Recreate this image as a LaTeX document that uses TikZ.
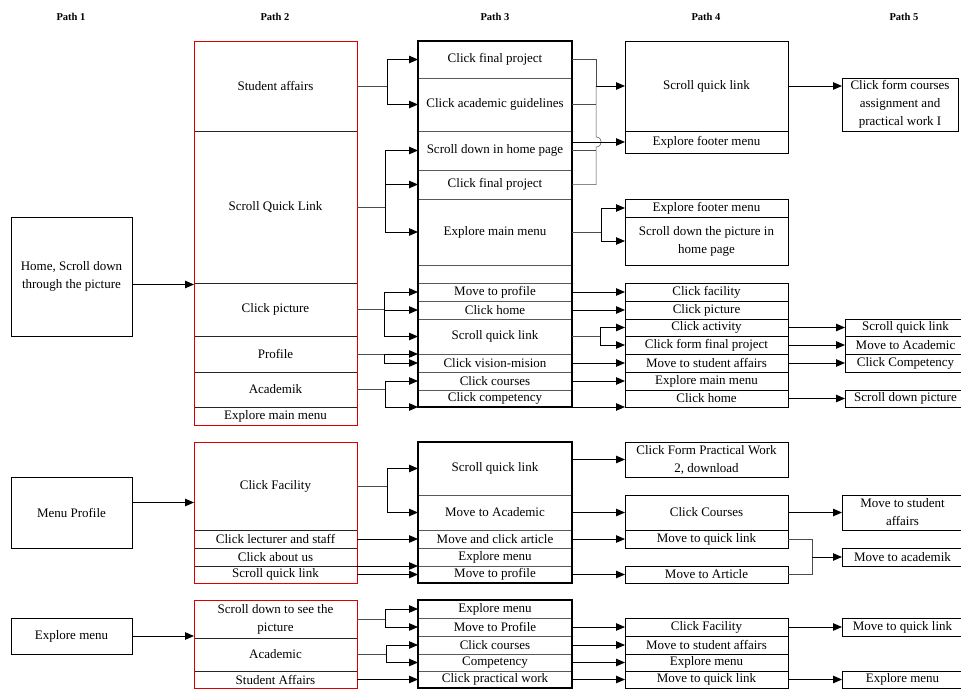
\documentclass[tikz,border=0pt]{standalone}
\usepackage{fontspec}
\setmainfont{Liberation Serif}
\usetikzlibrary{positioning,arrows.meta,calc}

\begin{document}
\begin{tikzpicture}[x=1pt, y=-1pt, node distance=0pt,
	font=\fontsize{13}{18}\selectfont,
	hdr/.style = {font=\fontsize{10.5}{12}\selectfont\bfseries},
	main/.style = {draw, rectangle, align=center, inner xsep=2pt, inner ysep=0pt, outer sep=0pt, line width=0.6pt},
	ptwo/.style = {main, draw=black!85, line width=0.5pt, minimum width=163pt},
	pthree/.style = {main, draw=black!65, line width=0.5pt, minimum width=154pt},
	pfour/.style = {main, minimum width=163pt},
	pfive/.style = {main, minimum width=121pt},
	link/.style = {line width=0.5pt, black!70},
	arr/.style = {-{Triangle[length=9pt,width=7.5pt]}, line width=1pt},
	grp/.style = {draw=red!85!black, line width=0.8pt},
	boxline/.style = {draw=black, line width=1.1pt}]
	\useasboundingbox (0,0) rectangle (961,688);
	% headers
	\node[hdr] (h1) at (71,17) {Path 1};
	\node[hdr] (h2) at (275,17) {Path 2};
	\node[hdr] (h3) at (495,17) {Path 3};
	\node[hdr] (h4) at (706,17) {Path 4};
	\node[hdr] (h5) at (904,17) {Path 5};
	% path 1
	\node[main, minimum width=121pt, minimum height=119pt, anchor=north west] (a1) at (11,217) {Home, Scroll down\\through the picture};
	\node[main, minimum width=121pt, minimum height=71pt, anchor=north west] (a2) at (11,477) {Menu Profile};
	\node[main, minimum width=121pt, minimum height=36pt, anchor=north west] (a3) at (11,618) {Explore menu};
	% path 2
	\node[ptwo, minimum height=90pt, anchor=north west] (b1) at (194,41) {Student affairs};
	\node[ptwo, minimum height=152pt, below=of b1] (b2) {Scroll Quick Link};
	\node[ptwo, minimum height=53pt, below=of b2] (b3) {Click picture};
	\node[ptwo, minimum height=36pt, below=of b3] (b4) {Profile};
	\node[ptwo, minimum height=35pt, below=of b4] (b5) {Academik};
	\node[ptwo, minimum height=18pt, below=of b5] (b6) {Explore main menu};
	\node[ptwo, minimum height=88pt, anchor=north west] (b7) at (194,442) {Click Facility};
	\node[ptwo, minimum height=18pt, below=of b7] (b8) {Click lecturer and staff};
	\node[ptwo, minimum height=18pt, below=of b8] (b9) {Click about us};
	\node[ptwo, minimum height=17pt, below=of b9] (b10) {Scroll quick link};
	\node[ptwo, minimum height=38pt, anchor=north west] (b11) at (194,600) {Scroll down to see the\\picture};
	\node[ptwo, minimum height=33pt, below=of b11] (b12) {Academic};
	\node[ptwo, minimum height=17pt, below=of b12] (b13) {Student Affairs};
	\draw[grp] (b1.north west) rectangle (b6.south east);
	\draw[grp] (b7.north west) rectangle (b10.south east);
	\draw[grp] (b11.north west) rectangle (b13.south east);
	% path 3
	\node[pthree, minimum height=37pt, anchor=north west] (c1) at (418,41) {Click final project};
	\node[pthree, minimum height=53pt, below=of c1] (c2) {Click academic guidelines};
	\node[pthree, minimum height=39pt, below=of c2] (c3) {Scroll down in home page};
	\node[pthree, minimum height=29pt, below=of c3] (c4) {Click final project};
	\node[pthree, minimum height=66pt, below=of c4] (c5) {Explore main menu};
	\node[pthree, minimum height=18pt, below=of c5] (c6) {};
	\node[pthree, minimum height=18pt, below=of c6] (c7) {Move to profile};
	\node[pthree, minimum height=18pt, below=of c7] (c8) {Click home};
	\node[pthree, minimum height=35pt, below=of c8] (c9) {Scroll quick link};
	\node[pthree, minimum height=18pt, below=of c9] (c10) {Click vision-mision};
	\node[pthree, minimum height=18pt, below=of c10] (c11) {Click courses};
	\node[pthree, minimum height=17pt, below=of c11] (c12) {Click competency};
	\node[pthree, minimum height=53pt, anchor=north west] (c13) at (418,442) {Scroll quick link};
	\node[pthree, minimum height=35pt, below=of c13] (c14) {Move to Academic};
	\node[pthree, minimum height=18pt, below=of c14] (c15) {Move and click article};
	\node[pthree, minimum height=18pt, below=of c15] (c16) {Explore menu};
	\node[pthree, minimum height=17pt, below=of c16] (c17) {Move to profile};
	\node[pthree, minimum height=18pt, anchor=north west] (c18) at (418,600) {Explore menu};
	\node[pthree, minimum height=18pt, below=of c18] (c19) {Move to Profile};
	\node[pthree, minimum height=18pt, below=of c19] (c20) {Click courses};
	\node[pthree, minimum height=17pt, below=of c20] (c21) {Competency};
	\node[pthree, minimum height=17pt, below=of c21] (c22) {Click practical work};
	\draw[boxline] (c1.north west) rectangle (c12.south east);
	\draw[boxline] (c13.north west) rectangle (c17.south east);
	\draw[boxline] (c18.north west) rectangle (c22.south east);
	% path 4
	\node[pfour, minimum height=90pt, anchor=north west] (d1) at (625,41) {Scroll quick link};
	\node[pfour, minimum height=22pt, below=of d1] (d2) {Explore footer menu};
	\node[pfour, minimum height=18pt, anchor=north west] (d3) at (625,199) {Explore footer menu};
	\node[pfour, minimum height=48pt, below=of d3] (d4) {Scroll down the picture in\\home page};
	\node[pfour, minimum height=18pt, anchor=north west] (d5) at (625,283) {Click facility};
	\node[pfour, minimum height=18pt, below=of d5] (d6) {Click picture};
	\node[pfour, minimum height=17pt, below=of d6] (d7) {Click activity};
	\node[pfour, minimum height=18pt, below=of d7] (d8) {Click form final project};
	\node[pfour, minimum height=18pt, below=of d8] (d9) {Move to student affairs};
	\node[pfour, minimum height=18pt, below=of d9] (d10) {Explore main menu};
	\node[pfour, minimum height=17pt, below=of d10] (d11) {Click home};
	\node[pfour, minimum height=35pt, anchor=north west] (d12) at (625,442) {Click Form Practical Work\\2, download};
	\node[pfour, minimum height=35pt, anchor=north west] (d13) at (625,495) {Click Courses};
	\node[pfour, minimum height=18pt, below=of d13] (d14) {Move to quick link};
	\node[pfour, minimum height=17pt, anchor=north west] (d15) at (625,566) {Move to Article};
	\node[pfour, minimum height=18pt, anchor=north west] (d16) at (625,618) {Click Facility};
	\node[pfour, minimum height=18pt, below=of d16] (d17) {Move to student affairs};
	\node[pfour, minimum height=17pt, below=of d17] (d18) {Explore menu};
	\node[pfour, minimum height=17pt, below=of d18] (d19) {Move to quick link};
	% path 5
	\node[pfive, minimum width=116pt, minimum height=53pt, anchor=north west] (e1) at (842,78) {Click form courses\\assignment and\\practical work I};
	\node[pfive, minimum height=17pt, anchor=north west] (e2) at (845,319) {Scroll quick link};
	\node[pfive, minimum height=18pt, below=of e2] (e3) {Move to Academic};
	\node[pfive, minimum height=18pt, below=of e3] (e4) {Click Competency};
	\node[pfive, minimum height=17pt, anchor=north west] (e5) at (845,390) {Scroll down picture};
	\node[pfive, minimum height=35pt, anchor=north west] (e6) at (842,495) {Move to student\\affairs};
	\node[pfive, minimum height=18pt, anchor=north west] (e7) at (842,548) {Move to academik};
	\node[pfive, minimum height=18pt, anchor=north west] (e8) at (842,618) {Move to quick link};
	\node[pfive, minimum height=17pt, anchor=north west] (e9) at (842,671) {Explore menu};
	% path 1 -> path 2
	\path (a1.east) ++(0,8) coordinate (s1);
	\path (a2.east) ++(0,-10) coordinate (s2);
	\draw[arr] (s1) -- (s1 -| b2.west);
	\draw[arr] (s2) -- (s2 -| b7.west);
	\draw[arr] (a3.east) -- (a3.east -| b11.west);
	% path 2 -> path 3
	\coordinate (j1) at ($(b1.east)+(30,0)$);
	\coordinate (j2) at ($(b2.east)+(28,0)$);
	\coordinate (j3) at ($(b3.east)+(27,0)$);
	\coordinate (j4) at ($(b4.east)+(27,0)$);
	\coordinate (j5) at ($(b5.east)+(28,0)$);
	\coordinate (j7) at ($(b7.east)+(30,0)$);
	\coordinate (j11) at ($(b11.east)+(28,0)$);
	\coordinate (j12) at ($(b12.east)+(29,0)$);
	\draw[link] (b1.east) -- (j1);
	\draw[arr] (j1) |- (c1);
	\draw[arr] (j1) |- (c2);
	\draw[link] (b2.east) -- (j2);
	\draw[arr] (j2) |- (c3);
	\draw[arr] (j2) |- (c4);
	\draw[arr] (j2) |- (c5);
	\draw[link] (b3.east) -- (j3);
	\draw[arr] (j3) |- (c7);
	\draw[arr] (j3) |- (c8);
	\draw[arr] (j3) |- (c9);
	\draw[link] (b4.east) -- (j4);
	\draw[arr] (j4) -- (c9.south west);
	\draw[arr] (j4) |- (c10);
	\draw[link] (b5.east) -- (j5);
	\draw[arr] (j5) |- (c11);
	\draw[arr] (j5) |- (c12.south west);
	\draw[link] (b7.east) -- (j7);
	\draw[arr] (j7) |- (c13);
	\draw[arr] (j7) |- (c14);
	\draw[arr] (b8.east) -- (c15.west);
	\draw[arr] (b9.south east) -- (c16.south west);
	\draw[arr] (b10.east) -- (c17.west);
	\draw[link] (b11.east) -- (j11);
	\draw[arr] (j11) |- (c18);
	\draw[arr] (j11) |- (c19);
	\draw[link] (b12.east) -- (j12);
	\draw[arr] (j12) |- (c20);
	\draw[arr] (j12) |- (c21);
	\draw[arr] (b13.east) -- (c22.west);
	% path 3 -> path 4
	\coordinate (k1) at ($(d1.west)+(-29,0)$);
	\path (d2.west -| k1) coordinate (k2);
	\coordinate (k3) at ($(c5.east)+(29,0)$);
	\coordinate (k4) at ($(c9.east)+(28,0)$);
	\draw[link] (c1.east) -| (k1);
	\draw[link] (c2.east) -- (c2.east -| k1);
	\draw[link] (c3.east) -- (c3.east -| k1);
	\draw[link] (c4.east) -- (c4.east -| k1) -- ($(k2)+(0,5)$) .. controls ($(k2)+(7,5)$) and ($(k2)+(7,-5)$) .. ($(k2)+(0,-5)$) -- (k1);
	\draw[arr] (k1) -- (d1.west);
	\draw[arr] (c3.east |- d2.west) -- (d2.west);
	\draw[link] (c5.east) -- (k3);
	\draw[arr] (k3) |- (d3);
	\draw[arr] (k3) |- (d4);
	\draw[arr] (c7.east) -- (d5.west);
	\draw[arr] (c8.east) -- (d6.west);
	\draw[link] (c9.east) -- (k4);
	\draw[arr] (k4) |- (d7);
	\draw[arr] (k4) |- (d8);
	\draw[arr] (c10.east) -- (d9.west);
	\draw[arr] (c11.east) -- (d10.west);
	\draw[arr] (c12.south east) -- (d11.south west);
	\draw[arr] (c13.east |- d12.west) -- (d12.west);
	\draw[arr] (c14.east) -- (d13.west);
	\draw[arr] (c15.east) -- (d14.west);
	\draw[arr] (c17.east) -- (d15.west);
	\draw[arr] (c19.east) -- (d16.west);
	\draw[arr] (c20.east) -- (d17.west);
	\draw[arr] (c21.east) -- (d18.west);
	\draw[arr] (c22.east) -- (d19.west);
	% path 4 -> path 5
	\path (e7.west) ++(-30,0) coordinate (k5);
	\draw[arr] (d1.east) -- (d1.east -| e1.west);
	\draw[arr] (d7.east) -- (e2.west);
	\draw[arr] (d8.east) -- (e3.west);
	\draw[arr] (d9.east) -- (e4.west);
	\draw[arr] (d11.east) -- (e5.west);
	\draw[arr] (d13.east) -- (e6.west);
	\draw[link] (d14.east) -| (k5);
	\draw[link] (d15.east) -| (k5);
	\draw[arr] (k5) -- (e7.west);
	\draw[arr] (d16.east) -- (e8.west);
	\draw[arr] (d19.east) -- (e9.west);
\end{tikzpicture}
\end{document}
